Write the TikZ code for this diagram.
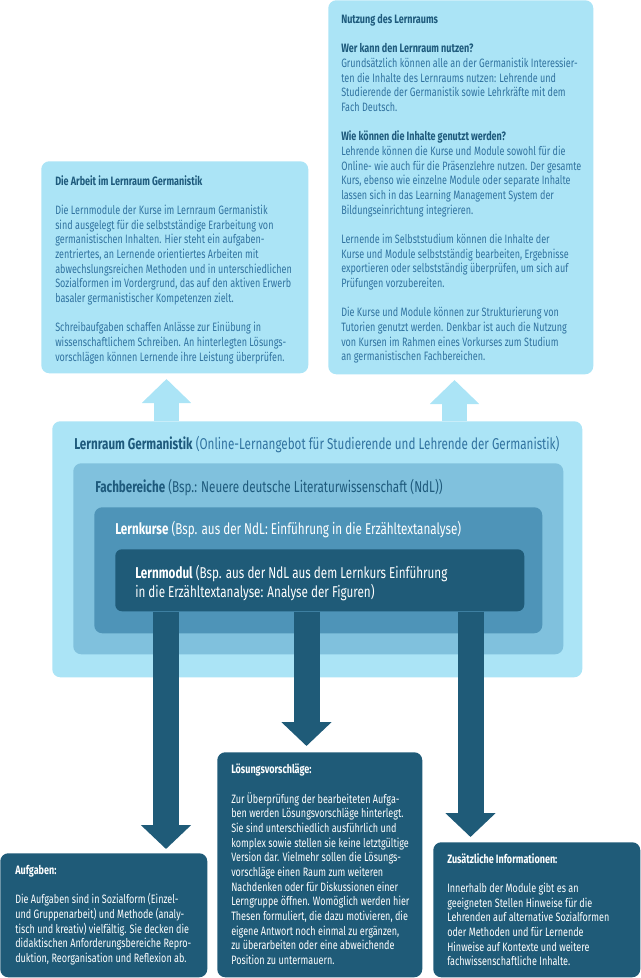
\documentclass[tikz,border=0pt]{standalone}
\usepackage{fontspec}
\setmainfont{Fira Sans}[FakeStretch=0.745]
\usetikzlibrary{arrows.meta,positioning}

\definecolor{lightblue}{HTML}{ABE4F6}
\definecolor{fachblue}{HTML}{80C1DD}
\definecolor{kursblue}{HTML}{4E94B8}
\definecolor{darkblue}{HTML}{1F5B78}
\definecolor{textblue}{HTML}{3173A0}
\definecolor{headblue}{HTML}{1E5A7C}

\tikzset{
  panel/.style={rounded corners=6pt, inner sep=0pt, anchor=north west},
  bodytext/.style={inner sep=0pt, anchor=north west, align=left,
    font=\fontsize{9.1}{11}\selectfont},
  bigtext/.style={inner sep=0pt, anchor=north west, align=left,
    font=\fontsize{11.75}{14.25}\selectfont},
  uparrow/.style={lightblue, line width=18.75pt,
    -{Triangle[width=36pt, length=18pt]}},
  downarrow/.style={darkblue, line width=19.5pt,
    -{Triangle[width=36.75pt, length=18pt]}},
}

\begin{document}
\begin{tikzpicture}[x=0.75pt, y=-0.75pt]
    \useasboundingbox (0,0) rectangle (640,978);

    \node[panel, fill=lightblue, minimum width=267*0.75pt, minimum height=212*0.75pt] (arbeit) at (41,161) {};
    \node[panel, fill=lightblue, minimum width=265*0.75pt, minimum height=374*0.75pt] (nutzung) at (328,0) {};

    \node[panel, fill=lightblue, minimum width=530*0.75pt, minimum height=256*0.75pt] (lernraum) at (52,421) {};
    \node[panel, fill=fachblue, minimum width=490*0.75pt, minimum height=191*0.75pt] (fach) at (73,463) {};
    \node[panel, fill=kursblue, minimum width=448*0.75pt, minimum height=126*0.75pt] (kurs) at (94,507) {};
    \node[panel, fill=darkblue, minimum width=409*0.75pt, minimum height=62*0.75pt, rounded corners=5pt] (modul) at (115,549) {};

    \node[panel, fill=darkblue, minimum width=207*0.75pt, minimum height=124*0.75pt] (aufgaben) at (0,853) {};
    \node[panel, fill=darkblue, minimum width=205*0.75pt, minimum height=225*0.75pt] (loesung) at (217,752) {};
    \node[panel, fill=darkblue, minimum width=207*0.75pt, minimum height=135*0.75pt] (zusatz) at (433,842) {};

    \coordinate (u1) at (166.5,379);
    \coordinate (u2) at (454.5,380);
    \draw[uparrow] (u1 |- lernraum.north) -- (u1);
    \draw[uparrow] (u2 |- lernraum.north) -- (u2);

    \coordinate (d1) at (166,849);
    \coordinate (d2) at (306.5,746);
    \coordinate (d3) at (470.5,837);
    \draw[downarrow] (d1 |- modul.south) -- (d1);
    \draw[downarrow] (d2 |- modul.south) -- (d2);
    \draw[downarrow] (d3 |- modul.south) -- (d3);

    \node[bigtext, text=textblue] (lernraumlabel) at ([shift={(22,15)}]lernraum.north west) {
      \textcolor{headblue}{\textbf{Lernraum Germanistik}} (Online-Lernangebot f\"ur Studierende und Lehrende der Germanistik)
    };
    \node[bigtext, text=headblue] (fachlabel) at ([shift={(22,16)}]fach.north west) {
      \textbf{Fachbereiche} (Bsp.: Neuere deutsche Literaturwissenschaft (NdL))
    };
    \node[bigtext, text=white] (kurslabel) at ([shift={(21,14)}]kurs.north west) {
      \textbf{Lernkurse} (Bsp. aus der NdL: Einf\"uhrung in die Erz\"ahltextanalyse)
    };
    \node[bigtext, text=white] (modullabel) at ([shift={(20,16)}]modul.north west) {
      \textbf{Lernmodul} (Bsp. aus der NdL aus dem Lernkurs Einf\"uhrung\\
      in die Erz\"ahltextanalyse: Analyse der Figuren)
    };

    \node[bodytext, text=textblue] (arbeittext) at ([shift={(14,14)}]arbeit.north west) {
      \textcolor{headblue}{\textbf{Die Arbeit im Lernraum Germanistik}}\\[11pt]
      Die Lernmodule der Kurse im Lernraum Germanistik\\
      sind ausgelegt f\"ur die selbstst\"andige Erarbeitung von\\
      germanistischen Inhalten. Hier steht ein aufgaben-\\
      zentriertes, an Lernende orientiertes Arbeiten mit\\
      abwechslungsreichen Methoden und in unterschiedlichen\\
      Sozialformen im Vordergrund, das auf den aktiven Erwerb\\
      basaler germanistischer Kompetenzen zielt.\\[11pt]
      Schreibaufgaben schaffen Anl\"asse zur Ein\"ubung in\\
      wissenschaftlichem Schreiben. An hinterlegten L\"osungs-\\
      vorschl\"agen k\"onnen Lernende ihre Leistung \"uberpr\"ufen.
    };
    \node[bodytext, text=textblue] (nutzungtext) at ([shift={(13,14)}]nutzung.north west) {
      \textcolor{headblue}{\textbf{Nutzung des Lernraums}}\\[11pt]
      \textcolor{headblue}{\textbf{Wer kann den Lernraum nutzen?}}\\
      Grunds\"atzlich k\"onnen alle an der Germanistik Interessier-\\
      ten die Inhalte des Lernraums nutzen: Lehrende und\\
      Studierende der Germanistik sowie Lehrkr\"afte mit dem\\
      Fach Deutsch.\\[11pt]
      \textcolor{headblue}{\textbf{Wie k\"onnen die Inhalte genutzt werden?}}\\
      Lehrende k\"onnen die Kurse und Module sowohl f\"ur die\\
      Online- wie auch f\"ur die Pr\"asenzlehre nutzen. Der gesamte\\
      Kurs, ebenso wie einzelne Module oder separate Inhalte\\
      lassen sich in das Learning Management System der\\
      Bildungseinrichtung integrieren.\\[11pt]
      Lernende im Selbststudium k\"onnen die Inhalte der\\
      Kurse und Module selbstst\"andig bearbeiten, Ergebnisse\\
      exportieren oder selbstst\"andig \"uberpr\"ufen, um sich auf\\
      Pr\"ufungen vorzubereiten.\\[11pt]
      Die Kurse und Module k\"onnen zur Strukturierung von\\
      Tutorien genutzt werden. Denkbar ist auch die Nutzung\\
      von Kursen im Rahmen eines Vorkurses zum Studium\\
      an germanistischen Fachbereichen.
    };

    \node[bodytext, text=white] (aufgabentext) at ([shift={(15,12)}]aufgaben.north west) {
      \textbf{Aufgaben:}\\[11pt]
      Die Aufgaben sind in Sozialform (Einzel-\\
      und Gruppenarbeit) und Methode (analy-\\
      tisch und kreativ) vielf\"altig. Sie decken die\\
      didaktischen Anforderungsbereiche Repro-\\
      duktion, Reorganisation und Reflexion ab.
    };
    \node[bodytext, text=white] (loesungtext) at ([shift={(14,12)}]loesung.north west) {
      \textbf{L\"osungsvorschl\"age:}\\[11pt]
      Zur \"Uberpr\"ufung der bearbeiteten Aufga-\\
      ben werden L\"osungsvorschl\"age hinterlegt.\\
      Sie sind unterschiedlich ausf\"uhrlich und\\
      komplex sowie stellen sie keine letztg\"ultige\\
      Version dar. Vielmehr sollen die L\"osungs-\\
      vorschl\"age einen Raum zum weiteren\\
      Nachdenken oder f\"ur Diskussionen einer\\
      Lerngruppe \"offnen. Wom\"oglich werden hier\\
      Thesen formuliert, die dazu motivieren, die\\
      eigene Antwort noch einmal zu erg\"anzen,\\
      zu \"uberarbeiten oder eine abweichende\\
      Position zu untermauern.
    };
    \node[bodytext, text=white] (zusatztext) at ([shift={(14,11)}]zusatz.north west) {
      \textbf{Zus\"atzliche Informationen:}\\[11pt]
      Innerhalb der Module gibt es an\\
      geeigneten Stellen Hinweise f\"ur die\\
      Lehrenden auf alternative Sozialformen\\
      oder Methoden und f\"ur Lernende\\
      Hinweise auf Kontexte und weitere\\
      fachwissenschaftliche Inhalte.
    };
\end{tikzpicture}
\end{document}
